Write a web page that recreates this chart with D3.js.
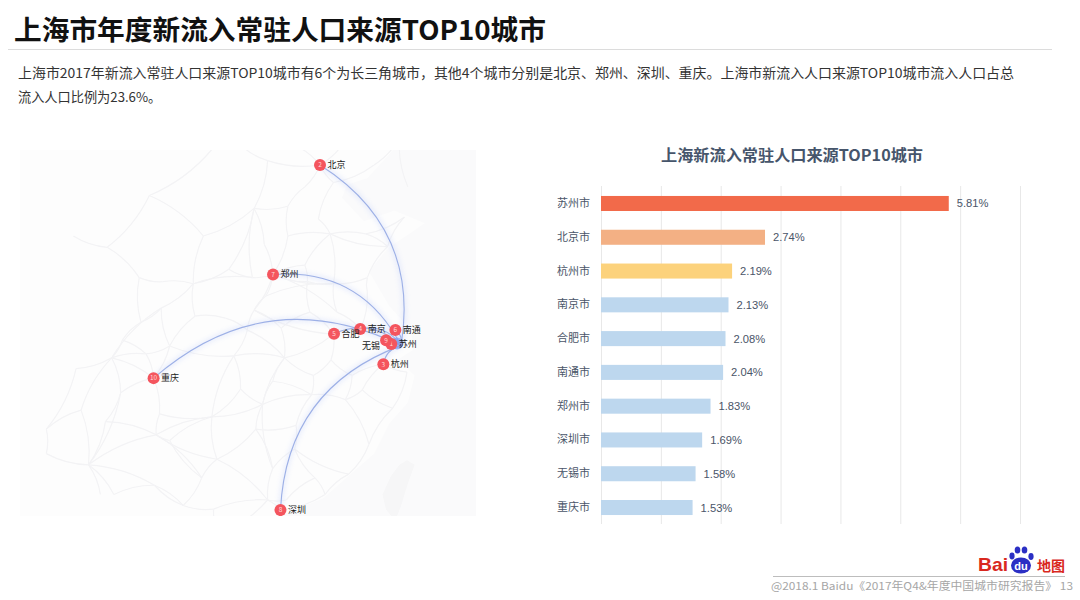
<!DOCTYPE html>
<html><head><meta charset="utf-8">
<script src="https://cdn.jsdelivr.net/npm/d3@7"></script>
<style>
html,body{margin:0;padding:0;background:#fff}
svg{display:block}
text{font-family:"Noto Sans CJK SC","Noto Sans",sans-serif}
</style></head><body>
<svg id="c" width="1080" height="600"></svg>
<script>
const pageTitle = "上海市年度新流入常驻人口来源TOP10城市";
const descLines = ["上海市2017年新流入常驻人口来源TOP10城市有6个为长三角城市，其他4个城市分别是北京、郑州、深圳、重庆。上海市新流入人口来源TOP10城市流入人口占总","流入人口比例为23.6%。"];
const chartTitle = "上海新流入常驻人口来源TOP10城市";
const footer = "@2018.1 Baidu《2017年Q4&年度中国城市研究报告》 13";
const categories = ["苏州市","北京市","杭州市","南京市","合肥市","南通市","郑州市","深圳市","无锡市","重庆市"];
const shares = [5.81,2.74,2.19,2.13,2.08,2.04,1.83,1.69,1.58,1.53];
const barColors = ["#f26a4a","#f3b084","#fcd27c","#bdd7ee","#bdd7ee","#bdd7ee","#bdd7ee","#bdd7ee","#bdd7ee","#bdd7ee"];
const gridTicks = [0,1,2,3,4,5,6,7];
const shanghai = [121.2,31.22];
const mapCities = ["苏州","北京","杭州","南京","合肥","南通","郑州","深圳","无锡","重庆"];
const mapRanks = [1,2,3,4,5,6,7,8,9,10];
const mapLon = [120.62,116.40,120.15,118.78,117.23,120.86,113.62,114.06,120.31,106.55];
const mapLat = [31.30,39.90,30.27,32.06,31.82,32.01,34.75,22.55,31.49,29.56];
const labelSide = ["right","right","right","right","right","right","right","right","left","right"];
const seaOutline = [[121.9,42],[121.0,40.8],[119.2,39.3],[118.0,39.0],[117.7,38.4],[119.0,37.3],[120.8,37.8],[122.6,37.2],[120.4,36.0],[119.3,34.9],[120.5,33.2],[121.8,32.0],[121.9,31.0],[121.0,30.5],[122.0,29.7],[121.6,28.3],[120.5,27.2],[119.6,25.6],[118.2,24.5],[116.6,23.2],[114.5,22.4],[112.5,21.7],[112,18],[130,18],[130,42]];
const taiwanOutline = [[121.55,25.25],[122.0,25.0],[121.6,24.0],[121.2,22.8],[120.85,21.95],[120.3,22.6],[120.1,23.4],[120.6,24.4],[121.1,25.0]];
const roadNodes = {
 BJ:[116.4,39.9],TJ:[117.2,39.1],SJZ:[114.5,38.0],TY:[112.5,37.9],JN:[117,36.7],QD:[120.4,36.1],ZZ:[113.6,34.75],XA:[108.9,34.3],LY:[112.4,34.6],BD:[115.5,38.9],HD:[114.5,36.6],DZ:[116.3,37.4],
 XZ:[117.2,34.3],LYG:[119.2,34.6],BB:[117.4,32.9],NJ:[118.8,32.05],HF:[117.2,31.8],WH:[114.3,30.6],XY:[112.1,32],NY:[112.5,33],CD:[104.07,30.6],CQ:[106.55,29.56],
 CS:[113,28.2],NC:[115.9,28.7],HZ:[120.15,30.27],WZ:[120.7,28],FZ:[119.3,26.1],XM:[118.1,24.5],GZ:[113.3,23.1],SZ:[114.06,22.55],GL:[110.3,25.3],NN:[108.3,22.8],GY:[106.7,26.6],KM:[102.7,25],HH:[110,27.55],YC:[111.3,30.7],
 LZ:[109.4,24.3],SG:[113.6,24.8],GZH:[114.9,25.85],JA:[114.98,27.1],SR:[117.9,28.45],YA:[109.5,36.6],HY:[112.6,26.9],PL:[113.2,33.7],HAN:[107,33.1],DZH:[107.5,31.2],ZY:[106.9,27.7],NB:[121.55,29.87],QZ:[118.9,28.95],HS:[118.3,29.7],AQ:[117.05,30.5],JJ:[116,29.7],LH:[119.2,33.9],YB:[104.6,28.8],BS:[106.6,23.9],YL:[110.1,22.6],ZJ:[110.4,21.2],HZH:[114.4,23.1],MZ:[116.1,24.3],ST:[116.7,23.4],
 KD:[101.96,30.05],XC:[102.26,27.9],LJ:[100.2,26.9],DL:[100.2,25.6],TS:[105.7,34.6],LAN:[103.8,36.06],XN:[101.8,36.6],GYU:[105.8,32.4],MY:[104.7,31.5],BJI:[107.1,34.4],YCH:[106.3,38.5],HHT:[111.7,40.8],BT:[110,40.6],DT:[113.3,40.1],JZ:[121.1,41.1],QHD:[119.6,39.9],DL2:[121.6,38.9],CDE:[117.9,41],ZJK:[114.9,40.8],FY:[115.8,32.9],XYA:[114.1,32.1],NCH:[106.1,30.8],YT:[121.4,37.5],WF:[119.1,36.7],LC:[113.1,36.2],YUC:[111,35],HZE:[115.5,35.2],SQ:[115.65,34.4],HN:[113.6,29.4],LS:[111.7,29],SY:[110.8,32.6],AK:[109,32.7],QN:[107.5,26.3],WS:[104.2,23.4],HE:[103.4,23.4],ZT:[103.7,27.3]
};
const roadEdges = ["BJ-TJ","BJ-BD","BD-SJZ","SJZ-TY","SJZ-HD","HD-ZZ","TJ-DZ","DZ-JN","JN-QD","JN-XZ","XZ-BB","BB-NJ","NJ-HF","HF-WH","WH-XY","XY-NY","NY-ZZ","ZZ-LY","LY-XA","XA-YA","YA-TY","XA-HAN","HAN-CD","CD-CQ","CQ-DZH","DZH-HAN","DZH-YC","YC-WH","YC-XY","CQ-ZY","ZY-GY","GY-HH","HH-CS","CS-WH","WH-JJ","JJ-NC","NC-CS","NC-SR","SR-QZ","QZ-HZ","HZ-HS","HS-AQ","AQ-HF","AQ-JJ","HZ-NB","NB-WZ","WZ-FZ","FZ-XM","XM-ST","ST-SZ","SZ-GZ","GZ-SG","SG-HY","HY-CS","GZ-YL","YL-NN","NN-LZ","LZ-GL","GL-HY","GL-GZ","LZ-GY","NN-BS","BS-KM","KM-GY","KM-YB","YB-CQ","YB-CD","ZJ-YL","ZJ-GZ","SG-GZH","GZH-JA","JA-NC","GZH-MZ","MZ-ST","MZ-HZH","HZH-GZ","FZ-SR","XM-GZH","SR-HS","JA-HY","PL-ZZ","PL-XZ","PL-NY","XZ-ZZ","XZ-LYG","LYG-QD","LYG-LH","LH-NJ","BB-ZZ","HF-NY","TY-LY","HD-JN","HH-GL","HH-YC","CS-SG","WZ-QZ","ZY-HH","BS-NN","GY-GL",
 "CD-KD","CD-XC","XC-KM","XC-LJ","LJ-DL","DL-KM","KD-LJ","CD-MY","MY-GYU","GYU-HAN","GYU-TS","TS-BJI","BJI-XA","TS-LAN","LAN-XN","LAN-YCH","YCH-YA","YCH-BT","BT-HHT","HHT-DT","DT-TY","DT-BJ","ZJK-BJ","ZJK-HHT","CDE-BJ","CDE-JZ","QHD-TJ","QHD-JZ","DL2-JZ","YT-QD","YT-WF","WF-JN","WF-QD","LC-TY","LC-ZZ","YUC-TY","YUC-XA","YUC-LY","HZE-JN","HZE-ZZ","HZE-SQ","SQ-XZ","SQ-ZZ","SQ-FY","FY-HF","FY-XYA","XYA-WH","XYA-NY","HN-WH","HN-CS","HN-NC","LS-YC","LS-HH","LS-CS","SY-XY","SY-AK","AK-XA","AK-DZH","QN-GY","QN-LZ","QN-HH","WS-KM","WS-BS","HE-KM","ZT-KM","ZT-YB","ZT-GY","NCH-CD","NCH-CQ","NCH-DZH","MY-NCH"];

const svg = d3.select("#c");
const ink = "#1a1a1a";

// Header
svg.append("text").attr("x",14).attr("y",40).attr("font-size",27).attr("font-weight",700).attr("fill","#111")
  .attr("textLength",532).attr("lengthAdjust","spacingAndGlyphs").text(pageTitle);
svg.append("line").attr("x1",8).attr("x2",1052).attr("y1",49.5).attr("y2",49.5).attr("stroke","#dcdcdc");
svg.selectAll("text.desc").data(descLines).join("text").attr("class","desc")
  .attr("x",18).attr("y",(d,i)=>78+i*24).attr("font-size",13.2).attr("fill","#333")
  .attr("textLength",(d,i)=>i===0?996:null).attr("lengthAdjust","spacingAndGlyphs").text(d=>d);

// Map
const proj = d3.geoMercator().center([116.4,39.9]).scale(968).translate([320,165]);
const defs = svg.append("defs");
defs.append("clipPath").attr("id","mapClip").append("rect").attr("x",20).attr("y",150).attr("width",456).attr("height",366);
defs.append("filter").attr("id","glow").attr("x","-30%").attr("y","-30%").attr("width","160%").attr("height","160%")
  .append("feGaussianBlur").attr("stdDeviation",2.5);
defs.append("filter").attr("id","soft").append("feGaussianBlur").attr("stdDeviation",0.5);
const map = svg.append("g").attr("clip-path","url(#mapClip)");
map.append("rect").attr("x",20).attr("y",150).attr("width",456).attr("height",366).attr("fill","#fdfdfd");
const polyPath = pts => "M"+pts.map(p=>proj(p).join(",")).join("L")+"Z";
map.append("path").attr("d",polyPath(seaOutline)).attr("fill","#fafafb");
const roads = map.append("g").attr("filter","url(#soft)").attr("fill","none").attr("stroke","#f3f3f5").attr("stroke-width",1.2);
roads.selectAll("path").data(roadEdges).join("path").attr("d",(e,i)=>{
  const [a,b]=e.split("-").map(k=>proj(roadNodes[k]));
  const s=(i%2?1:-1)*0.12;
  const p=d3.path();p.moveTo(a[0],a[1]);
  p.quadraticCurveTo((a[0]+b[0])/2+(b[1]-a[1])*s,(a[1]+b[1])/2-(b[0]-a[0])*s,b[0],b[1]);
  return p.toString();
});
map.append("path").attr("d",polyPath(taiwanOutline)).attr("fill","#f6f6f7").attr("filter","url(#soft)");

const target = proj(shanghai);
const arcPath = (s)=>{
  const mx=(s[0]+target[0])/2,my=(s[1]+target[1])/2,dx=target[0]-s[0],dy=target[1]-s[1];
  const cx=mx+dy*0.33,cy=my-dx*0.33;
  const p=d3.path();p.moveTo(s[0],s[1]);p.quadraticCurveTo(cx,cy,target[0],target[1]);return p.toString();
};
const cityPts = mapCities.map((c,i)=>({name:c,rank:mapRanks[i],p:proj([mapLon[i],mapLat[i]]),side:labelSide[i]}));
map.append("g").attr("filter","url(#glow)").attr("fill","none").attr("stroke","#c3d0fa").attr("stroke-width",4).attr("opacity",.4)
  .selectAll("path").data(cityPts).join("path").attr("d",d=>arcPath(d.p));
map.append("g").attr("fill","none").attr("stroke","#9db0e6").attr("stroke-width",1.1)
  .selectAll("path").data(cityPts).join("path").attr("d",d=>arcPath(d.p));
map.append("circle").attr("cx",target[0]-4).attr("cy",target[1]-2).attr("r",6).attr("fill","#7f9bf0").attr("opacity",.7).attr("filter","url(#soft)");

const nodes = map.append("g").selectAll("g").data(cityPts).join("g").attr("transform",d=>`translate(${d.p[0]},${d.p[1]})`);
nodes.append("circle").attr("r",6).attr("fill","#f4555e");
nodes.append("text").attr("text-anchor","middle").attr("y",2.3).attr("font-size",6.5).attr("fill","#ffd9d9").text(d=>d.rank);
nodes.append("text").attr("x",d=>d.side==="right"?7.5:-6).attr("y",d=>d.side==="right"?3:9).attr("font-size",9).attr("fill",ink)
  .attr("text-anchor",d=>d.side==="right"?"start":"end").text(d=>d.name);

// Bars
const x = d3.scaleLinear().domain([0,7]).range([601,1020]);
const y = d3.scaleBand().domain(categories).range([186.5,524.5]).paddingInner(0.555).paddingOuter(0.28);
const muted = "#4a5568";
svg.append("text").attr("x",661).attr("y",161).attr("font-size",15.5).attr("font-weight",700).attr("fill","#46556b")
  .attr("textLength",262).attr("lengthAdjust","spacingAndGlyphs").text(chartTitle);
const grid = d3.axisBottom(x).tickValues(gridTicks).tickSize(-338).tickFormat("");
svg.append("g").attr("transform","translate(0,524)").call(grid).call(g=>{
  g.select(".domain").remove();
  g.selectAll("line").attr("stroke","#e8e8e8");
});
svg.selectAll("rect.bar").data(categories).join("rect").attr("class","bar")
  .attr("x",x(0)).attr("y",d=>y(d)).attr("height",y.bandwidth())
  .attr("width",(d,i)=>x(shares[i])-x(0)).attr("fill",(d,i)=>barColors[i]);
const catAxis = d3.axisLeft(y).tickSize(0).tickPadding(11);
svg.append("g").attr("transform","translate(601,0)").call(catAxis).call(g=>{
  g.select(".domain").remove();
  g.selectAll("text").attr("font-size",11).attr("fill","#4a5568").style("font-family",'"Noto Sans CJK SC",sans-serif');
});
svg.selectAll("text.val").data(categories).join("text").attr("class","val")
  .attr("x",(d,i)=>x(shares[i])+8).attr("y",d=>y(d)+y.bandwidth()/2+4).attr("font-size",11.2)
  .attr("fill",muted).style("font-family",'"Liberation Sans",sans-serif').text((d,i)=>shares[i].toFixed(2)+"%");

// Footer
svg.append("line").attr("x1",773).attr("x2",1065).attr("y1",576.5).attr("y2",576.5).attr("stroke","#bdbdbd");
svg.append("text").attr("x",771).attr("y",590).attr("font-size",10.8).attr("fill","#a6a6a6").attr("textLength",302).attr("lengthAdjust","spacingAndGlyphs").text(footer);

// Logo
const logo = svg.append("g");
logo.append("text").attr("x",978).attr("y",571).attr("font-size",19).attr("font-weight",700).attr("fill","#d9281e").style("font-family",'"Liberation Sans",sans-serif').attr("textLength",30).attr("lengthAdjust","spacingAndGlyphs").text("Bai");
const toes = [[1012,556,2.6,3.4],[1017.5,550,2.8,3.6],[1024.5,550,2.8,3.6],[1031,556.5,2.6,3.4]];
logo.selectAll("ellipse").data(toes).join("ellipse").attr("cx",d=>d[0]).attr("cy",d=>d[1]).attr("rx",d=>d[2]).attr("ry",d=>d[3]).attr("fill","#2b2fc4");
logo.append("ellipse").attr("cx",1021).attr("cy",565.5).attr("rx",10).attr("ry",8).attr("fill","#2b2fc4");
logo.append("text").attr("x",1021).attr("y",570).attr("text-anchor","middle").attr("font-size",11).attr("font-weight",700).attr("fill","#fff").style("font-family",'"Liberation Sans",sans-serif').text("du");
logo.append("text").attr("x",1037).attr("y",571).attr("font-size",14).attr("font-weight",700).attr("fill","#d9281e").text("地图");
</script>
</body></html>
